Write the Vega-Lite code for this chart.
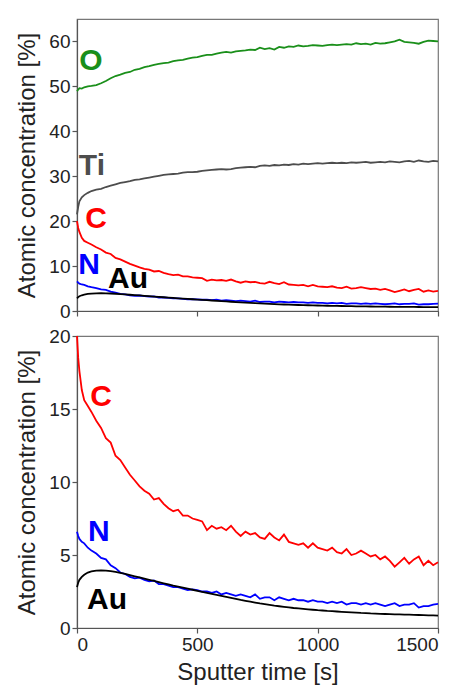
{
 "$schema": "https://vega.github.io/schema/vega-lite/v6.json",
 "padding": {"left": 15, "top": 18, "right": 6, "bottom": 3},
 "background": "white",
 "bounds": "flush",
 "spacing": 25,
 "resolve": {"scale": {"y": "independent"}},
 "config": {
  "font": "Liberation Sans",
  "view": {"stroke": "#777", "strokeWidth": 1.2},
  "axis": {"domainColor": "#555", "tickColor": "#555", "labelColor": "#222", "titleColor": "#222", "labelFontSize": 19, "titleFontSize": 24, "titleFontWeight": "normal", "grid": false, "tickSize": 5, "labelFont": "Liberation Sans", "titleFont": "Liberation Sans", "domainWidth": 1.2, "tickWidth": 1.2},
  "axisY": {"titlePadding": 9},
  "axisX": {"titlePadding": 6}
 },
 "datasets": {
  "xps": [
   {"t":0,"O":48.9,"Ti":21.5,"C":20.0,"N":6.6,"Au":2.8},
   {"t":5,"O":49.3,"Ti":23.2,"C":18.5,"N":6.3,"Au":3.1},
   {"t":10,"O":49.6,"Ti":24.4,"C":17.6,"N":6.1,"Au":3.3},
   {"t":20,"O":49.5,"Ti":25.3,"C":16.3,"N":5.9,"Au":3.5},
   {"t":30,"O":49.8,"Ti":25.8,"C":15.6,"N":5.8,"Au":3.65},
   {"t":45,"O":50.0,"Ti":26.3,"C":15.2,"N":5.5,"Au":3.8},
   {"t":60,"O":50.1,"Ti":26.7,"C":14.8,"N":5.3,"Au":3.88},
   {"t":80,"O":50.3,"Ti":27.0,"C":14.2,"N":5.1,"Au":3.93},
   {"t":100,"O":50.7,"Ti":27.2,"C":13.7,"N":4.8,"Au":3.95},
   {"t":120,"O":51.2,"Ti":27.6,"C":13.0,"N":4.7,"Au":3.93},
   {"t":140,"O":51.8,"Ti":27.9,"C":12.7,"N":4.3,"Au":3.9},
   {"t":160,"O":52.3,"Ti":28.2,"C":11.8,"N":4.1,"Au":3.84},
   {"t":180,"O":52.6,"Ti":28.5,"C":11.5,"N":3.8,"Au":3.77},
   {"t":200,"O":53.0,"Ti":28.7,"C":11.0,"N":3.7,"Au":3.7},
   {"t":220,"O":53.2,"Ti":28.9,"C":10.5,"N":3.5,"Au":3.62},
   {"t":240,"O":53.7,"Ti":29.2,"C":10.1,"N":3.4,"Au":3.54},
   {"t":260,"O":53.9,"Ti":29.3,"C":9.7,"N":3.45,"Au":3.46},
   {"t":280,"O":54.3,"Ti":29.5,"C":9.4,"N":3.3,"Au":3.38},
   {"t":300,"O":54.5,"Ti":29.7,"C":9.2,"N":3.2,"Au":3.3},
   {"t":320,"O":54.8,"Ti":29.9,"C":8.8,"N":3.25,"Au":3.22},
   {"t":340,"O":55.0,"Ti":30.1,"C":8.9,"N":3.0,"Au":3.14},
   {"t":360,"O":55.2,"Ti":30.3,"C":8.5,"N":3.0,"Au":3.06},
   {"t":380,"O":55.3,"Ti":30.4,"C":8.2,"N":2.9,"Au":2.98},
   {"t":400,"O":55.6,"Ti":30.5,"C":8.0,"N":2.8,"Au":2.9},
   {"t":420,"O":55.8,"Ti":30.6,"C":8.1,"N":2.8,"Au":2.83},
   {"t":440,"O":55.9,"Ti":30.8,"C":7.7,"N":2.7,"Au":2.76},
   {"t":460,"O":56.2,"Ti":30.9,"C":7.7,"N":2.6,"Au":2.69},
   {"t":480,"O":56.4,"Ti":30.9,"C":7.5,"N":2.65,"Au":2.62},
   {"t":500,"O":56.5,"Ti":31.0,"C":7.4,"N":2.6,"Au":2.55},
   {"t":520,"O":56.8,"Ti":31.2,"C":7.3,"N":2.5,"Au":2.48},
   {"t":540,"O":57.0,"Ti":31.3,"C":6.7,"N":2.5,"Au":2.41},
   {"t":560,"O":57.0,"Ti":31.4,"C":7.0,"N":2.4,"Au":2.34},
   {"t":580,"O":57.3,"Ti":31.5,"C":6.8,"N":2.5,"Au":2.27},
   {"t":600,"O":57.5,"Ti":31.6,"C":6.9,"N":2.3,"Au":2.2},
   {"t":620,"O":57.7,"Ti":31.5,"C":6.7,"N":2.4,"Au":2.13},
   {"t":640,"O":57.5,"Ti":31.6,"C":7.0,"N":2.3,"Au":2.06},
   {"t":660,"O":57.8,"Ti":31.8,"C":6.6,"N":2.2,"Au":1.99},
   {"t":680,"O":57.9,"Ti":31.9,"C":6.3,"N":2.3,"Au":1.92},
   {"t":700,"O":58.0,"Ti":32.0,"C":6.6,"N":2.2,"Au":1.86},
   {"t":720,"O":58.2,"Ti":32.1,"C":6.4,"N":2.1,"Au":1.8},
   {"t":740,"O":58.1,"Ti":32.0,"C":6.5,"N":2.3,"Au":1.74},
   {"t":760,"O":58.6,"Ti":32.3,"C":6.2,"N":2.0,"Au":1.68},
   {"t":780,"O":58.3,"Ti":32.4,"C":6.1,"N":2.1,"Au":1.63},
   {"t":800,"O":58.5,"Ti":32.3,"C":6.5,"N":2.1,"Au":1.58},
   {"t":820,"O":58.2,"Ti":32.5,"C":6.2,"N":1.9,"Au":1.53},
   {"t":840,"O":58.8,"Ti":32.4,"C":6.0,"N":2.1,"Au":1.49},
   {"t":860,"O":58.6,"Ti":32.6,"C":6.4,"N":2.0,"Au":1.45},
   {"t":880,"O":58.9,"Ti":32.5,"C":5.9,"N":1.9,"Au":1.41},
   {"t":900,"O":58.8,"Ti":32.7,"C":5.8,"N":2.0,"Au":1.37},
   {"t":920,"O":59.1,"Ti":32.6,"C":5.7,"N":1.9,"Au":1.34},
   {"t":940,"O":58.9,"Ti":32.8,"C":5.8,"N":1.9,"Au":1.31},
   {"t":960,"O":59.0,"Ti":32.7,"C":5.5,"N":1.8,"Au":1.28},
   {"t":980,"O":59.2,"Ti":32.8,"C":5.8,"N":1.9,"Au":1.25},
   {"t":1000,"O":59.1,"Ti":32.9,"C":5.5,"N":1.8,"Au":1.22},
   {"t":1020,"O":59.0,"Ti":32.8,"C":5.4,"N":1.8,"Au":1.2},
   {"t":1040,"O":59.2,"Ti":32.9,"C":5.3,"N":1.7,"Au":1.17},
   {"t":1060,"O":59.3,"Ti":33.0,"C":5.5,"N":1.8,"Au":1.15},
   {"t":1080,"O":59.2,"Ti":32.9,"C":5.2,"N":1.7,"Au":1.13},
   {"t":1100,"O":59.3,"Ti":33.0,"C":5.1,"N":1.8,"Au":1.11},
   {"t":1120,"O":59.4,"Ti":32.9,"C":5.4,"N":1.6,"Au":1.09},
   {"t":1140,"O":59.3,"Ti":33.1,"C":5.0,"N":1.7,"Au":1.07},
   {"t":1160,"O":59.6,"Ti":33.0,"C":5.1,"N":1.7,"Au":1.05},
   {"t":1180,"O":59.4,"Ti":33.1,"C":5.3,"N":1.6,"Au":1.03},
   {"t":1200,"O":59.5,"Ti":33.2,"C":5.1,"N":1.7,"Au":1.02},
   {"t":1220,"O":59.3,"Ti":33.0,"C":4.9,"N":1.6,"Au":1.0},
   {"t":1240,"O":59.7,"Ti":33.1,"C":5.0,"N":1.7,"Au":0.99},
   {"t":1260,"O":59.5,"Ti":33.2,"C":4.7,"N":1.6,"Au":0.97},
   {"t":1280,"O":59.6,"Ti":33.1,"C":4.9,"N":1.5,"Au":0.96},
   {"t":1300,"O":59.8,"Ti":33.3,"C":4.6,"N":1.6,"Au":0.95},
   {"t":1320,"O":60.0,"Ti":33.2,"C":4.2,"N":1.7,"Au":0.94},
   {"t":1340,"O":60.4,"Ti":33.1,"C":4.5,"N":1.5,"Au":0.93},
   {"t":1360,"O":59.9,"Ti":33.3,"C":4.8,"N":1.6,"Au":0.92},
   {"t":1380,"O":59.8,"Ti":33.4,"C":4.4,"N":1.6,"Au":0.91},
   {"t":1400,"O":59.7,"Ti":33.2,"C":4.7,"N":1.7,"Au":0.9},
   {"t":1420,"O":59.5,"Ti":33.5,"C":4.9,"N":1.4,"Au":0.89},
   {"t":1440,"O":59.9,"Ti":33.3,"C":4.3,"N":1.5,"Au":0.88},
   {"t":1460,"O":60.2,"Ti":33.2,"C":4.6,"N":1.5,"Au":0.87},
   {"t":1480,"O":60.1,"Ti":33.4,"C":4.3,"N":1.6,"Au":0.86},
   {"t":1500,"O":60.0,"Ti":33.3,"C":4.5,"N":1.65,"Au":0.85}
  ],
  "labels": [
   {"panel":"top","el":"O","t":58,"v":55.6},
   {"panel":"top","el":"Ti","t":62,"v":32.2},
   {"panel":"top","el":"C","t":79,"v":20.5},
   {"panel":"top","el":"N","t":50,"v":10.2},
   {"panel":"top","el":"Au","t":212,"v":7.1},
   {"panel":"bottom","el":"C","t":100,"v":15.8},
   {"panel":"bottom","el":"N","t":91,"v":6.6},
   {"panel":"bottom","el":"Au","t":125,"v":1.9}
  ]
 },
 "vconcat": [
  {
   "width": 361,
   "height": 292,
   "layer": [
    {
     "data": {"name": "xps"},
     "transform": [{"fold": ["O", "Ti", "C", "N", "Au"], "as": ["el", "v"]}],
     "mark": {"type": "line", "strokeWidth": 1.8},
     "encoding": {
      "x": {"field": "t", "type": "quantitative", "scale": {"domain": [0, 1500], "nice": false}, "axis": {"values": [0, 500, 1000, 1500], "labels": false, "title": null}},
      "y": {"field": "v", "type": "quantitative", "scale": {"domain": [0, 65], "nice": false}, "axis": {"values": [0, 10, 20, 30, 40, 50, 60], "title": "Atomic concentration [%]"}},
      "color": {"field": "el", "type": "nominal", "scale": {"domain": ["O", "Ti", "C", "N", "Au"], "range": ["#1a8f1a", "#4d4d4d", "#ff0000", "#0000ff", "#000000"]}, "legend": null}
     }
    },
    {
     "data": {"name": "labels"},
     "transform": [{"filter": "datum.panel == 'top'"}],
     "mark": {"type": "text", "fontSize": 30, "fontWeight": "bold", "align": "center", "baseline": "middle", "font": "Liberation Sans"},
     "encoding": {
      "x": {"field": "t", "type": "quantitative"},
      "y": {"field": "v", "type": "quantitative"},
      "text": {"field": "el"},
      "color": {"field": "el", "type": "nominal"}
     }
    }
   ]
  },
  {
   "width": 361,
   "height": 292,
   "layer": [
    {
     "data": {"name": "xps"},
     "transform": [{"fold": ["C", "N", "Au"], "as": ["el", "v"]}],
     "mark": {"type": "line", "strokeWidth": 1.8},
     "encoding": {
      "x": {"field": "t", "type": "quantitative", "scale": {"domain": [0, 1500], "nice": false}, "axis": {"values": [0, 500, 1000, 1500], "format": "d", "title": "Sputter time [s]"}},
      "y": {"field": "v", "type": "quantitative", "scale": {"domain": [0, 20], "nice": false}, "axis": {"values": [0, 5, 10, 15, 20], "title": "Atomic concentration [%]"}},
      "color": {"field": "el", "type": "nominal", "scale": {"domain": ["O", "Ti", "C", "N", "Au"], "range": ["#1a8f1a", "#4d4d4d", "#ff0000", "#0000ff", "#000000"]}, "legend": null}
     }
    },
    {
     "data": {"name": "labels"},
     "transform": [{"filter": "datum.panel == 'bottom'"}],
     "mark": {"type": "text", "fontSize": 30, "fontWeight": "bold", "align": "center", "baseline": "middle", "font": "Liberation Sans"},
     "encoding": {
      "x": {"field": "t", "type": "quantitative"},
      "y": {"field": "v", "type": "quantitative"},
      "text": {"field": "el"},
      "color": {"field": "el", "type": "nominal"}
     }
    }
   ]
  }
 ]
}
